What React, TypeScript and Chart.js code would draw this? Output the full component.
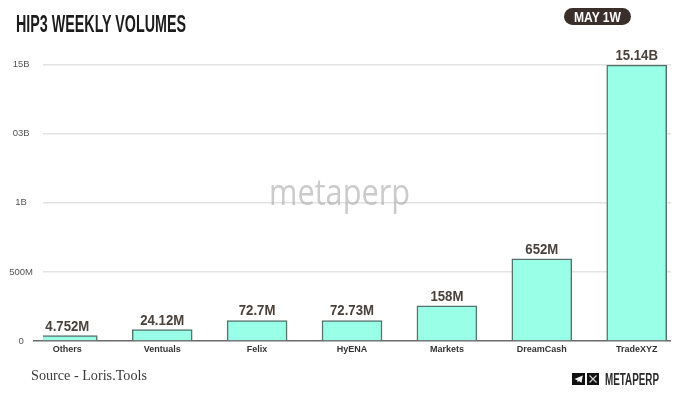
import React, { useEffect, useRef } from "react";
import { Chart, registerables } from "chart.js";

Chart.register(...registerables);

const categories = ["Others", "Ventuals", "Felix", "HyENA", "Markets", "DreamCash", "TradeXYZ"];
// Heights as plotted: the reference's axis has evenly spaced, non-proportional ticks,
// so bars are placed in tick-step units.
const plottedHeights = [0.077, 0.164, 0.297, 0.297, 0.51, 1.19, 3.99];
const valueLabels = ["4.752M", "24.12M", "72.7M", "72.73M", "158M", "652M", "15.14B"];
const yTickLabels = ["0", "500M", "1B", "03B", "15B"];

const TEAL = "#99ffe6";
const EDGE = "#56716c";
const LABEL = "#4a413b";

const valueLabelPlugin = {
  id: "valueLabels",
  afterDatasetsDraw(chart: any) {
    const { ctx } = chart;
    const meta = chart.getDatasetMeta(0);
    ctx.save();
    ctx.font = "bold 15px 'Liberation Sans'";
    ctx.fillStyle = LABEL;
    ctx.textAlign = "center";
    ctx.textBaseline = "alphabetic";
    meta.data.forEach((bar: any, i: number) => {
      const text = valueLabels[i];
      ctx.save();
      ctx.translate(bar.x, bar.y - 5);
      ctx.scale(0.88, 1);
      ctx.fillText(text, 0, 0);
      ctx.restore();
    });
    ctx.restore();
  },
};

export default function App() {
  const ref = useRef<HTMLCanvasElement>(null);
  useEffect(() => {
    const chart = new Chart(ref.current as HTMLCanvasElement, {
      type: "bar",
      data: {
        datasets: [
          {
            data: categories.map((_, i) => ({ x: i, y: plottedHeights[i] })),
            backgroundColor: TEAL,
            borderColor: EDGE,
            borderWidth: 1.5,
            barThickness: 60,
          },
        ],
      },
      options: {
        animation: false,
        responsive: false,
        devicePixelRatio: 1,
        layout: { padding: { top: 64.5, right: 9, left: 0, bottom: 0 } },
        plugins: { legend: { display: false }, tooltip: { enabled: false } },
        scales: {
          x: {
            type: "linear",
            offset: false,
            min: -0.2561,
            max: 6.3613,
            afterBuildTicks(axis: any) {
              axis.ticks = categories.map((_, i) => ({ value: i }));
            },
            afterFit(axis: any) {
              axis.height = 62;
            },
            grid: { display: false, drawTicks: false },
            border: { display: false },
            ticks: {
              autoSkip: false,
              maxRotation: 0,
              padding: 3,
              color: "#333333",
              font: { family: "'Liberation Sans'", size: 9, weight: "bold" },
              callback: (v: any) => categories[v as number] ?? "",
            },
          },
          y: {
            min: 0,
            max: 4,
            afterFit(axis: any) {
              axis.width = 43;
            },
            border: { display: false },
            grid: {
              tickLength: 10,
              lineWidth: 1.5,
              color: (c: any) => (c.tick.value === 0 ? "#6b6b6b" : "#e3e3e3"),
              tickColor: (c: any) => (c.tick.value === 0 ? "#6b6b6b" : "rgba(0,0,0,0)"),
            },
            ticks: {
              stepSize: 1,
              padding: 0,
              crossAlign: "center",
              color: "#555555",
              font: { family: "'Liberation Sans'", size: 9.5 },
              callback: (v: any) => yTickLabels[v as number] ?? "",
            },
          },
        },
      },
      plugins: [valueLabelPlugin],
    } as any);
    return () => chart.destroy();
  }, []);

  return (
    <div style={{ position: "absolute", left: 0, top: 0, width: 680, height: 403, background: "#fff", overflow: "hidden" }}>
      <canvas ref={ref} width={680} height={403} style={{ display: "block", position: "absolute", left: 0, top: 0 }} />
      <svg width={680} height={403} style={{ position: "absolute", left: 0, top: 0 }}>
        <text x={16} y={32} textLength={170} lengthAdjust="spacingAndGlyphs" fontFamily="'Liberation Sans Narrow','Liberation Sans'" fontWeight={700} fontSize={23.5} fill="#1c1c1c">
          HIP3 WEEKLY VOLUMES
        </text>
        <rect x={564} y={8} width={67} height={17} rx={8.5} fill="#3a2f2a" />
        <text x={574} y={22} textLength={47} lengthAdjust="spacingAndGlyphs" fontFamily="'Liberation Sans'" fontWeight={700} fontSize={14} fill="#ffffff">
          MAY 1W
        </text>
        <text x={269} y={205} textLength={141} lengthAdjust="spacingAndGlyphs" fontFamily="'Open Sans'" fontWeight={400} fontSize={36} fill="#a8a8a8" opacity={0.6}>
          metaperp
        </text>
        <text x={31} y={380} textLength={116} lengthAdjust="spacingAndGlyphs" fontFamily="'Liberation Serif'" fontSize={15} fill="#3a3a3a">
          Source - Loris.Tools
        </text>
        <rect x={572} y={373} width={13} height={12} fill="#111" />
        <path d="M574.5 379 L582.8 375.5 L581.5 382.8 L578.8 381 L577.6 382.5 L577.4 380.2 Z" fill="#fff" />
        <rect x={587} y={373} width={12} height={12} fill="#111" />
        <path d="M589.5 375.5 L596.5 382.5 M596.5 375.5 L589.5 382.5" stroke="#cfcfcf" strokeWidth={1.3} />
        <text x={605} y={385} textLength={54} lengthAdjust="spacingAndGlyphs" fontFamily="'Liberation Sans Narrow','Liberation Sans'" fontWeight={700} fontSize={16} fill="#2a2a2a">
          METAPERP
        </text>
      </svg>
    </div>
  );
}
